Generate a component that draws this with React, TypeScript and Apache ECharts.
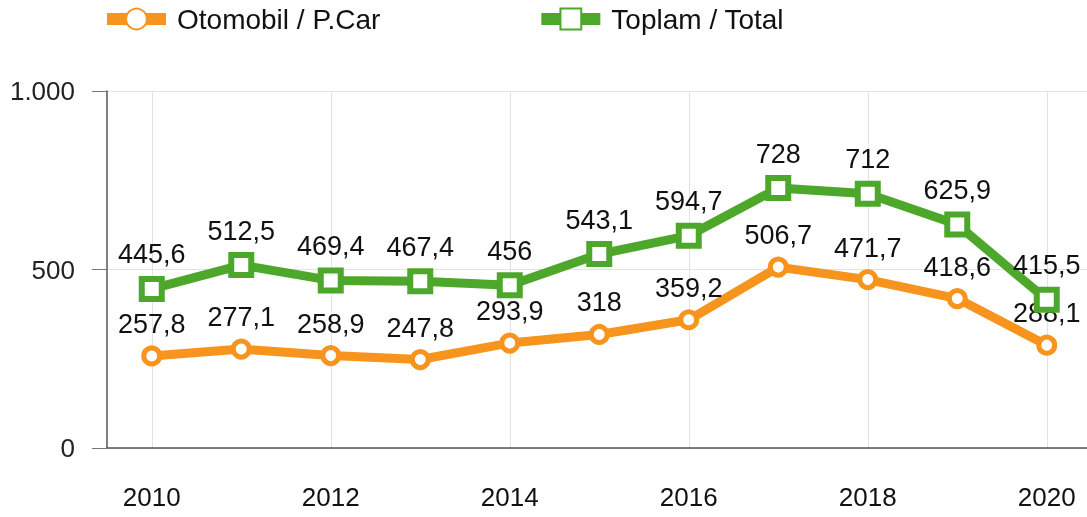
import React, { useEffect, useRef } from "react";
import * as echarts from "echarts";

const years = ["2010", "2011", "2012", "2013", "2014", "2015", "2016", "2017", "2018", "2019", "2020"];
const otomobil = [257.8, 277.1, 258.9, 247.8, 293.9, 318, 359.2, 506.7, 471.7, 418.6, 288.1];
const toplam = [445.6, 512.5, 469.4, 467.4, 456, 543.1, 594.7, 728, 712, 625.9, 415.5];
const seriesNames = ["Otomobil / P.Car", "Toplam / Total"];

const ORANGE = "#F7941D";
const GREEN = "#4CA72B";
const FONT = "Liberation Sans, Arial, sans-serif";

const fmt = (v: number) => String(v).replace(".", ",");

export default function App() {
  const ref = useRef<HTMLDivElement>(null);
  useEffect(() => {
    if (!ref.current) return;
    const chart = echarts.init(ref.current, null, { renderer: "svg" });
    const label = {
      show: true,
      position: "top" as const,
      distance: 8,
      color: "#111",
      fontSize: 27,
      fontFamily: FONT,
      formatter: (p: any) => fmt(p.value),
    };
    chart.setOption({
      animation: false,
      textStyle: { fontFamily: FONT },
      legend: {
        top: 5,
        left: 101,
        padding: 0,
        itemWidth: 59,
        itemHeight: 26,
        itemGap: 155,
        lineStyle: { width: 12 },
        textStyle: { fontSize: 28, color: "#111", fontFamily: FONT, padding: [0, 0, 4, 6] },
        data: seriesNames,
      },
      grid: { left: 107, right: 1.5, top: 91, bottom: 69, containLabel: false },
      xAxis: {
        type: "category",
        data: years,
        boundaryGap: true,
        axisLine: { lineStyle: { color: "#555", width: 1.5 } },
        axisTick: { alignWithLabel: true, interval: 1, length: 15, lineStyle: { color: "#777" } },
        axisLabel: { interval: 1, margin: 36, fontSize: 26, color: "#111", fontFamily: FONT },
        splitLine: { show: true, interval: 1, alignWithLabel: true, lineStyle: { color: "#e2e2e2" } },
      },
      yAxis: {
        type: "value",
        min: 0,
        max: 1000,
        interval: 500,
        axisLine: { show: true, lineStyle: { color: "#555", width: 1.5 } },
        axisTick: { show: true, length: 15, lineStyle: { color: "#777" } },
        axisLabel: {
          margin: 32,
          fontSize: 26,
          color: "#222",
          fontFamily: FONT,
          formatter: (v: number) => (v === 1000 ? "1.000" : String(v)),
        },
        splitLine: { show: true, lineStyle: { color: "#e2e2e2" } },
      },
      series: [
        {
          name: seriesNames[0],
          type: "line",
          data: otomobil,
          symbol: "circle",
          symbolSize: 16,
          lineStyle: { color: ORANGE, width: 9 },
          itemStyle: { color: "#fff", borderColor: ORANGE, borderWidth: 5 },
          label,
          z: 2,
        },
        {
          name: seriesNames[1],
          type: "line",
          data: toplam,
          symbol: "rect",
          symbolSize: 20,
          lineStyle: { color: GREEN, width: 9 },
          itemStyle: { color: "#fff", borderColor: GREEN, borderWidth: 6 },
          label,
          z: 3,
        },
      ],
    });
    return () => chart.dispose();
  }, []);
  return (
    <div
      ref={ref}
      style={{ position: "fixed", left: 0, top: 0, width: 1093, height: 517 }}
    />
  );
}
